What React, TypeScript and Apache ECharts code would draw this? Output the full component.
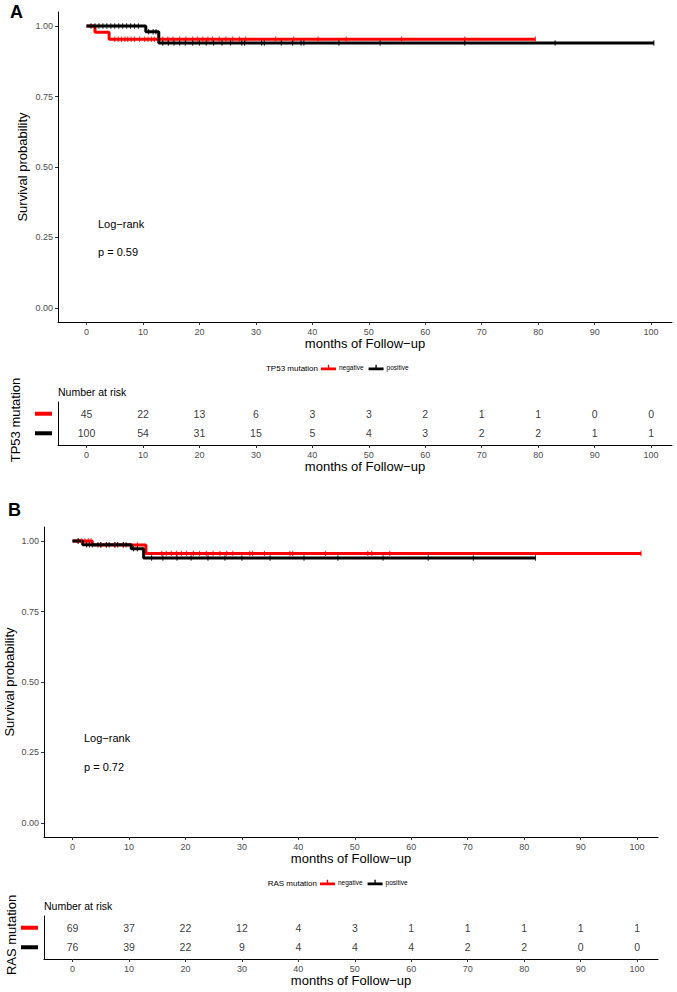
import React, { useEffect, useRef } from "react";
import * as echarts from "echarts";

// ---- data ----
const TIME_TICKS = [0, 10, 20, 30, 40, 50, 60, 70, 80, 90, 100];
const SURV_TICKS = [0, 0.25, 0.5, 0.75, 1];

// Panel A: TP53 mutation
const A_NEG_STEPS: [number, number][] = [[0, 1], [1.5, 0.978], [4, 0.953], [79.5, 0.953]];
const A_POS_STEPS: [number, number][] = [[0, 1], [10.5, 0.98], [12.8, 0.94], [100.5, 0.94]];
const A_NEG_CENSOR = [5, 5.6, 6.2, 6.8, 7.3, 7.9, 8.5, 9.4, 10.3, 10.9, 11.5, 12, 12.6, 13.5, 14.4, 15.3, 16.5, 17.6, 18.8, 19.7, 20.6, 21.5, 22.3, 23.5, 24.7, 25.9, 27.1, 28.2, 33.5, 36.7, 41, 46, 55.8, 67, 79.5];
const A_POS_CENSOR = [0.8, 1.5, 2.2, 2.9, 3.6, 4.3, 5, 5.7, 6.4, 7.1, 7.8, 8.5, 9.2, 11, 11.8, 12.3, 13.5, 14.5, 15.5, 16.5, 17.5, 18.8, 20, 21.2, 22.5, 24, 25.5, 27.5, 28, 31, 31.5, 34.5, 36.5, 38, 38.5, 44.7, 52, 67, 83, 100.5];
const A_NEG_RISK = [45, 22, 13, 6, 3, 3, 2, 1, 1, 0, 0];
const A_POS_RISK = [100, 54, 31, 15, 5, 4, 3, 2, 2, 1, 1];

// Panel B: RAS mutation
const B_NEG_STEPS: [number, number][] = [[0, 1], [3.5, 0.986], [13, 0.956], [100.7, 0.956]];
const B_POS_STEPS: [number, number][] = [[0, 1], [1.8, 0.987], [10.4, 0.973], [12.6, 0.94], [82, 0.94]];
const B_NEG_CENSOR = [1, 1.6, 2.2, 2.8, 3.3, 5, 6, 7.5, 9, 11.5, 15.8, 16.6, 17.5, 18.4, 19.3, 20.2, 21.4, 22.5, 23.7, 24.9, 26.1, 27.3, 28.4, 31.4, 31.9, 34, 38.5, 39, 44.8, 52.3, 53, 56.2, 100.7];
const B_POS_CENSOR = [1, 2.5, 3, 3.5, 4.5, 5, 6, 6.5, 7.5, 8, 9, 9.5, 10.8, 11.5, 14, 16, 18.5, 21, 24, 27, 30, 35, 41, 47, 55, 63, 71, 82];
const B_NEG_RISK = [69, 37, 22, 12, 4, 3, 1, 1, 1, 1, 1];
const B_POS_RISK = [76, 39, 22, 9, 4, 4, 4, 2, 2, 0, 0];

const RED = "#FF0000";
const BLACK = "#000000";
const FONT = "Liberation Sans, Arial, sans-serif";

function survAt(steps: [number, number][], t: number) {
  let s = steps[0][1];
  for (const [x, y] of steps) if (x <= t) s = y;
  return s;
}

const X_MIN = -5.05;
const X_MAX = 103.7;

function xAxisDef(gridIndex: number) {
  return {
    type: "value",
    gridIndex,
    min: X_MIN,
    max: X_MAX,
    splitLine: { show: false },
    axisLine: { show: true, onZero: false, lineStyle: { color: "#000", width: 1 } },
    axisTick: { show: true, customValues: TIME_TICKS, length: 3, lineStyle: { color: "#333" } },
    axisLabel: { customValues: TIME_TICKS, color: "#4d4d4d", fontSize: 9, margin: 5, fontFamily: FONT },
    name: "months of Follow\u2212up",
    nameLocation: "middle",
    nameGap: 14,
    nameTextStyle: { fontSize: 13, color: "#000", fontFamily: FONT },
  };
}

function mainYAxis(gridIndex: number) {
  return {
    type: "value",
    gridIndex,
    min: -0.05,
    max: 1.05,
    splitLine: { show: false },
    axisLine: { show: true, onZero: false, lineStyle: { color: "#000", width: 1 } },
    axisTick: { show: true, customValues: SURV_TICKS, length: 3, lineStyle: { color: "#333" } },
    axisLabel: {
      customValues: SURV_TICKS,
      formatter: (v: number) => v.toFixed(2),
      color: "#4d4d4d",
      fontSize: 9,
      margin: 5,
      fontFamily: FONT,
    },
  };
}

function riskYAxis(gridIndex: number) {
  return {
    type: "value",
    gridIndex,
    min: 0.4,
    max: 2.6,
    splitLine: { show: false },
    axisLine: { show: true, onZero: false, lineStyle: { color: "#000", width: 1 } },
    axisTick: { show: false },
    axisLabel: {
      customValues: [1, 2],
      margin: 6,
      formatter: (v: number) => (v === 2 ? "{neg| }" : "{pos| }"),
      rich: {
        neg: { backgroundColor: RED, width: 17, height: 4 },
        pos: { backgroundColor: BLACK, width: 17, height: 4 },
      },
    },
  };
}

function panelSeries(
  mainX: number,
  riskX: number,
  negSteps: [number, number][],
  posSteps: [number, number][],
  negCens: number[],
  posCens: number[],
  negRisk: number[],
  posRisk: number[]
) {
  const line = (name: string, data: [number, number][], color: string) => ({
    type: "line",
    name,
    xAxisIndex: mainX,
    yAxisIndex: mainX,
    step: "end",
    showSymbol: false,
    symbol: "none",
    data,
    lineStyle: { width: 3, color },
    itemStyle: { color },
    z: 2,
  });
  const cens = (name: string, times: number[], steps: [number, number][], color: string) => ({
    type: "scatter",
    name,
    xAxisIndex: mainX,
    yAxisIndex: mainX,
    symbol: "rect",
    symbolSize: [1.1, 5.5],
    data: times.map((t) => [t, survAt(steps, t)]),
    itemStyle: { color },
    z: 3,
  });
  const risk = (name: string, row: number, counts: number[]) => ({
    type: "scatter",
    name,
    xAxisIndex: riskX,
    yAxisIndex: riskX,
    symbolSize: 1,
    itemStyle: { color: "rgba(0,0,0,0)" },
    data: TIME_TICKS.map((t, i) => [t, row, counts[i]]),
    label: {
      show: true,
      position: "inside",
      formatter: (p: any) => String(p.value[2]),
      fontSize: 10.5,
      color: "#000",
      fontFamily: FONT,
    },
  });
  return [
    line("negative", negSteps, RED),
    line("positive", posSteps, BLACK),
    cens("cens-neg-" + mainX, negCens, negSteps, RED),
    cens("cens-pos-" + mainX, posCens, posSteps, BLACK),
    risk("risk-neg-" + mainX, 2, negRisk),
    risk("risk-pos-" + mainX, 1, posRisk),
  ];
}

const LEGEND_ICON = "path://M0,4 L16,4 L16,7 L0,7 Z M7.3,1 L8.7,1 L8.7,7 L7.3,7 Z";

function legendDef(top: number, left: number) {
  return {
    data: ["negative", "positive"],
    top,
    left,
    orient: "horizontal",
    itemWidth: 15,
    itemHeight: 7,
    itemGap: 5,
    padding: 0,
    icon: LEGEND_ICON,
    selectedMode: false,
    textStyle: { fontSize: 6.5, color: "#000", fontFamily: FONT, padding: [0, 0, 0, -2] },
  };
}

function text(x: number, y: number, t: string, size: number, opts: any = {}) {
  return {
    type: "text",
    x,
    y,
    style: {
      text: t,
      fontSize: size,
      fontFamily: FONT,
      fill: "#000",
      verticalAlign: "middle",
      align: "left",
      ...opts,
    },
  };
}

function vtext(x: number, y: number, t: string, size: number) {
  return {
    type: "text",
    x,
    y,
    rotation: Math.PI / 2,
    style: {
      text: t,
      fontSize: size,
      fontFamily: FONT,
      fill: "#000",
      verticalAlign: "middle",
      align: "center",
    },
  };
}

const G = { outerBoundsMode: "none", containLabel: false };

export default function App() {
  const ref = useRef<HTMLDivElement>(null);
  useEffect(() => {
    if (!ref.current) return;
    const chart = echarts.init(ref.current, undefined, { renderer: "svg" });
    chart.setOption({
      animation: false,
      backgroundColor: "#fff",
      textStyle: { fontFamily: FONT },
      grid: [
        { ...G, left: 58, top: 12, width: 614, height: 310 },
        { ...G, left: 58, top: 402, width: 614, height: 43 },
        { ...G, left: 44, top: 527, width: 614, height: 310 },
        { ...G, left: 44, top: 916, width: 614, height: 43 },
      ],
      xAxis: [xAxisDef(0), xAxisDef(1), xAxisDef(2), xAxisDef(3)],
      yAxis: [mainYAxis(0), riskYAxis(1), mainYAxis(2), riskYAxis(3)],
      legend: [legendDef(364, 321), legendDef(879, 320)],
      series: [
        ...panelSeries(0, 1, A_NEG_STEPS, A_POS_STEPS, A_NEG_CENSOR, A_POS_CENSOR, A_NEG_RISK, A_POS_RISK),
        ...panelSeries(2, 3, B_NEG_STEPS, B_POS_STEPS, B_NEG_CENSOR, B_POS_CENSOR, B_NEG_RISK, B_POS_RISK),
      ],
      graphic: [
        text(10, 12, "A", 18, { fontWeight: "bold" }),
        vtext(22, 167, "Survival probability", 13),
        vtext(15, 420, "TP53 mutation", 13),
        text(98, 224, "Log\u2212rank", 11),
        text(98, 252, "p = 0.59", 11),
        text(318, 368, "TP53 mutation", 8, { align: "right" }),
        text(58, 392, "Number at risk", 10.5),
        text(8, 510, "B", 18, { fontWeight: "bold" }),
        vtext(9, 682, "Survival probability", 13),
        vtext(11, 935, "RAS mutation", 13),
        text(84, 738, "Log\u2212rank", 11),
        text(84, 767, "p = 0.72", 11),
        text(317, 883, "RAS mutation", 8, { align: "right" }),
        text(44, 906, "Number at risk", 10.5),
      ],
    });
    return () => chart.dispose();
  }, []);
  return (
    <div
      ref={ref}
      style={{ position: "absolute", left: 0, top: 0, width: 677, height: 992, background: "#fff" }}
    />
  );
}
